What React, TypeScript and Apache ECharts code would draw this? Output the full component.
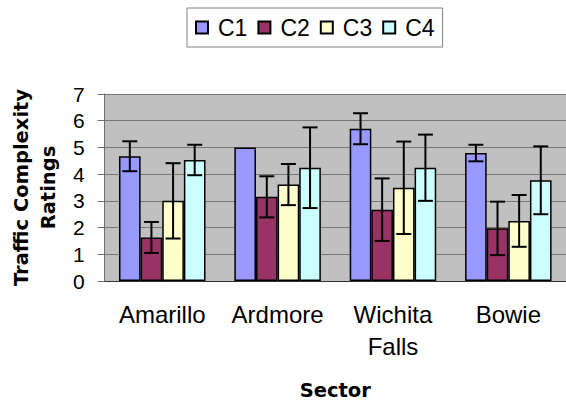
import React, { useEffect, useRef } from "react";
import * as echarts from "echarts";

const categories = ["Amarillo", "Ardmore", "Wichita\nFalls", "Bowie"];
const seriesNames = ["C1", "C2", "C3", "C4"];
const c1Values = [4.67, 5.0, 5.7, 4.79];
const c2Values = [1.63, 3.15, 2.67, 1.97];
const c3Values = [3.0, 3.61, 3.49, 2.25];
const c4Values = [4.53, 4.24, 4.24, 3.77];
const c1Errors = [0.56, 0, 0.58, 0.31];
const c2Errors = [0.58, 0.77, 1.17, 1.0];
const c3Errors = [1.41, 0.77, 1.73, 0.97];
const c4Errors = [0.57, 1.51, 1.24, 1.27];
const yTicks = [0, 1, 2, 3, 4, 5, 6, 7];

const colors = ["#9999FF", "#993366", "#FFFFCC", "#CCFFFF"];
const CAT_GAP = 0.25;

export default function App() {
  const ref = useRef<HTMLDivElement>(null);
  useEffect(() => {
    if (!ref.current) return;
    const chart = echarts.init(ref.current, null, { renderer: "svg" });
    const values = [c1Values, c2Values, c3Values, c4Values];
    const errors = [c1Errors, c2Errors, c3Errors, c4Errors];
    const n = seriesNames.length;

    const bars = seriesNames.map((name, i) => ({
      name,
      type: "bar",
      data: values[i],
      barGap: "0%",
      barCategoryGap: CAT_GAP * 100 + "%",
      itemStyle: { color: colors[i], borderColor: "#000", borderWidth: 1.5 },
      z: 2,
    }));

    const errSeries = seriesNames.map((name, i) => ({
      name: name + " error",
      type: "custom",
      z: 5,
      encode: { x: 0, y: 1 },
      data: categories.map((_, k) => [k, values[i][k], errors[i][k]]),
      renderItem: (params: any, api: any) => {
        const k = api.value(0);
        const v = api.value(1);
        const e = api.value(2);
        if (!e) return null;
        const p = api.coord([k, v]);
        const band = api.size([1, 0])[0];
        const groupW = band * (1 - CAT_GAP);
        const bw = groupW / n;
        const x = p[0] - groupW / 2 + bw * (i + 0.5);
        const hi = api.coord([k, v + e])[1];
        const lo = api.coord([k, v - e])[1];
        const cap = 7.5;
        const st = { stroke: "#000", lineWidth: 2 };
        return {
          type: "group",
          children: [
            { type: "line", shape: { x1: x, y1: hi, x2: x, y2: lo }, style: st },
            { type: "line", shape: { x1: x - cap, y1: hi, x2: x + cap, y2: hi }, style: st },
            { type: "line", shape: { x1: x - cap, y1: lo, x2: x + cap, y2: lo }, style: st },
          ],
        };
      },
    }));

    chart.setOption({
      animation: false,
      backgroundColor: "#fff",
      legend: {
        data: seriesNames,
        left: 187,
        top: 8,
        padding: [8, 8, 8, 8],
        itemGap: 10,
        itemWidth: 12,
        itemHeight: 12,
        borderColor: "#808080",
        borderWidth: 1,
        icon: "rect",
        textStyle: {
          fontFamily: "Liberation Sans",
          fontSize: 23,
          color: "#000",
          padding: [0, 0, 0, 5],
        },
      },
      grid: {
        left: 98,
        top: 94,
        width: 469,
        height: 188,
        show: true,
        backgroundColor: "#C0C0C0",
        borderWidth: 0,
      },
      xAxis: {
        type: "category",
        data: categories,
        name: "Sector",
        nameLocation: "middle",
        nameGap: 99,
        nameTextStyle: {
          fontFamily: "DejaVu Sans",
          fontWeight: "bold",
          fontSize: 19.5,
          color: "#000",
        },
        axisLine: { lineStyle: { color: "#303030", width: 1 } },
        axisTick: { length: 7, lineStyle: { color: "#303030" } },
        axisLabel: {
          interval: 0,
          hideOverlap: false,
          fontFamily: "Liberation Sans",
          fontSize: 24,
          color: "#000",
          margin: 17,
          lineHeight: 32,
        },
      },
      yAxis: {
        type: "value",
        min: yTicks[0],
        max: yTicks[yTicks.length - 1],
        interval: 1,
        name: "Traffic Complexity\nRatings",
        nameLocation: "middle",
        nameRotate: 90,
        nameGap: 42,
        nameTextStyle: {
          fontFamily: "DejaVu Sans",
          fontWeight: "bold",
          fontSize: 19.5,
          lineHeight: 27,
          color: "#000",
          align: "center",
        },
        axisLine: { show: true, lineStyle: { color: "#707070", width: 1 } },
        axisTick: { show: true, length: 7, lineStyle: { color: "#707070" } },
        axisLabel: {
          fontFamily: "Liberation Sans",
          fontSize: 21,
          color: "#000",
          margin: 20,
        },
        splitLine: { lineStyle: { color: "#777777", width: 1 } },
      },
      series: [...bars, ...errSeries],
    });
    return () => chart.dispose();
  }, []);
  return (
    <div
      ref={ref}
      style={{ position: "fixed", left: 0, top: 0, width: 566, height: 401 }}
    />
  );
}
